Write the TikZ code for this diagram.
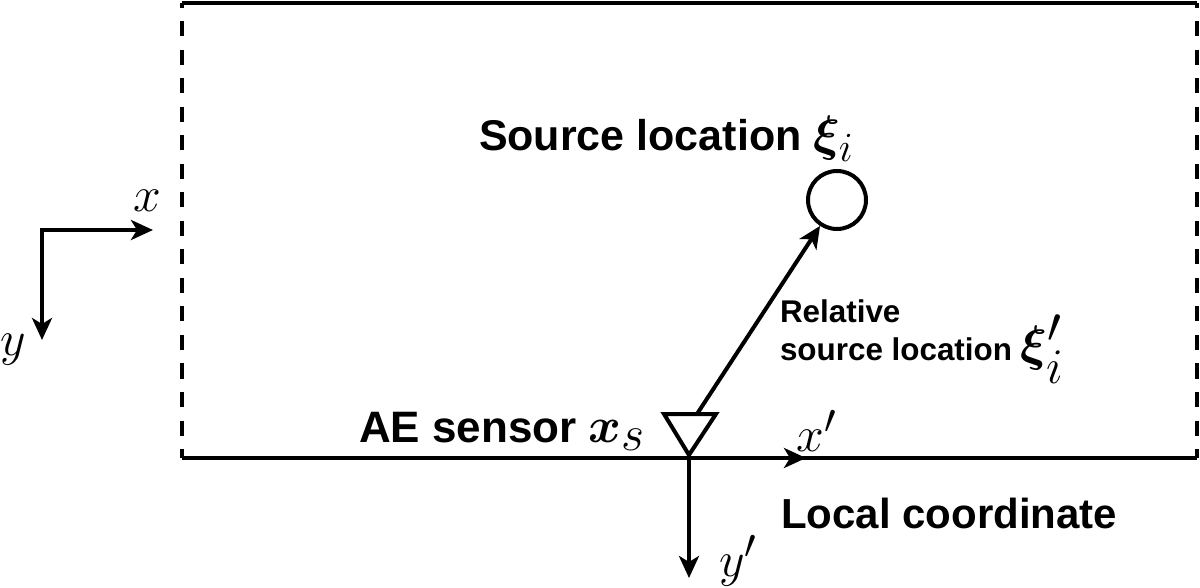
\documentclass[tikz,border=0pt]{standalone}
\usepackage{amsmath}
\usepackage{bm}
\usepackage{fontspec}
\setsansfont{Liberation Sans}
\usetikzlibrary{arrows.meta}
\newcommand\mybigsz{\fontsize{30}{34}\selectfont}
\newcommand\myhugesz{\fontsize{33}{37}\selectfont}
\begin{document}
\begin{tikzpicture}[x=0.5pt,y=-0.5pt,line width=2pt,
  tip/.tip={Stealth[length=11pt,width=10pt,inset=3pt]},
  arr/.style={-tip},
  lbl/.style={font=\sffamily\bfseries\fontsize{21.5}{26}\selectfont,inner sep=0pt},
  lbls/.style={font=\sffamily\bfseries\fontsize{15.7}{19}\selectfont,inner sep=0pt},
  mth/.style={font=\mybigsz,inner sep=0pt},
  dashedge/.style={dash pattern=on 7.5pt off 6.75pt,dash phase=5pt}]
\useasboundingbox (0,0) rectangle (1200,588);
% frame
\coordinate (tl) at (182,3);
\coordinate (tr) at (1197,3);
\coordinate (bl) at (182,458);
\coordinate (br) at (1197,458);
\draw (tl) -- (tr);
\draw (bl) -- (br);
\draw[dashedge] (tl) -- (bl);
\draw[dashedge] (tr) -- (br);
% global axes
\coordinate (o) at (42,230);
\coordinate (xe) at (153,230);
\coordinate (ye) at (42,340);
\draw[tip-tip] (xe) -- (o) -- (ye);
\node[mth] (xl) at (147,201) {$x$};
\node[mth] (yl) at (13,350) {$y$};
% sensor
\coordinate (stl) at (664,414);
\coordinate (str) at (716,414);
\coordinate (sap) at (689,455);
\draw[line join=miter] (stl) -- (str) -- (sap) -- cycle;
\coordinate (stop) at (697,414);
% source
\node[draw,circle,minimum size=29pt,inner sep=0pt] (src) at (837,200) {};
\draw[arr] (stop) -- (src);
% local axes
\coordinate (lo) at (689,458);
\coordinate (lxe) at (806,458);
\coordinate (lye) at (689,578);
\draw[arr] (lo) -- (lxe);
\draw[arr] (lo) -- (lye);
\node[mth] (lxl) at (817,431) {$x'$};
\node[mth] (lyl) at (738,561) {$y'$};
% labels
\node[lbl,anchor=base west] (srcl) at (477,151) {Source location \textnormal{\mybigsz$\bm{\xi}_i$}};
\node[lbls,anchor=base west] (rel1) at (778,322) {Relative};
\node[lbls,anchor=base west] (rel2) at (778,361) {source location \textnormal{\myhugesz$\bm{\xi}'_i$}};
\node[lbl,font=\sffamily\bfseries\fontsize{22}{26}\selectfont,anchor=base west] (ael) at (357,443) {AE sensor \textnormal{\myhugesz$\bm{x}_s$}};
\node[lbl,font=\sffamily\bfseries\fontsize{21}{25}\selectfont,anchor=base west] (loc) at (779,528) {Local coordinate};
\end{tikzpicture}
\end{document}
